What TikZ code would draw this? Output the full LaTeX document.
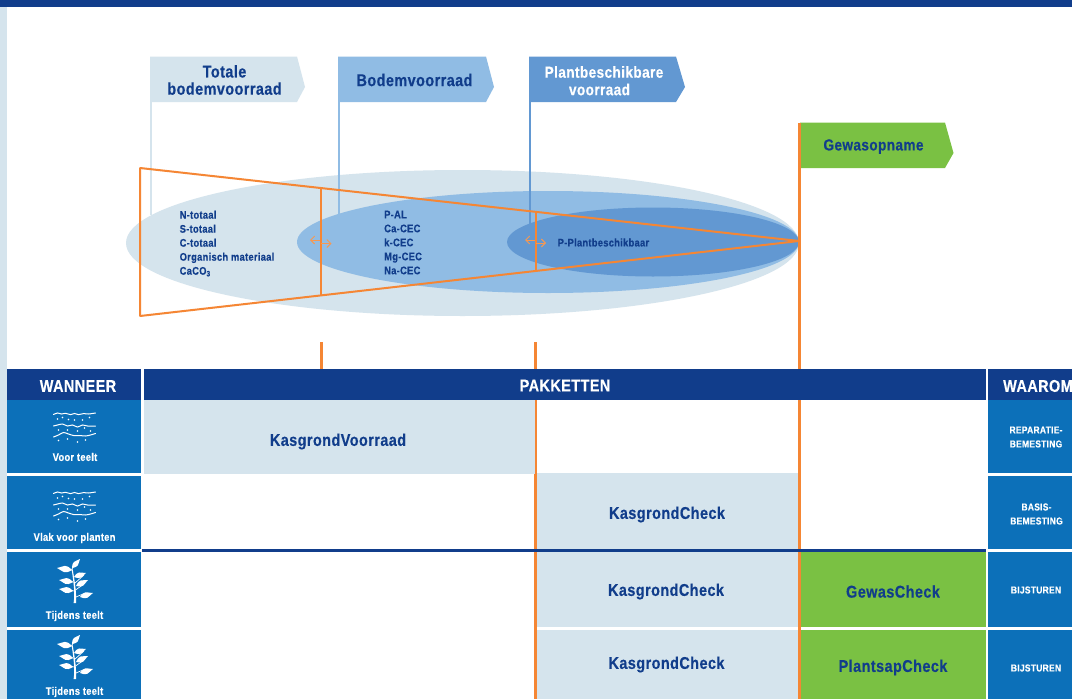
\documentclass[tikz,border=0pt]{standalone}
\usepackage{fontspec}
\setmainfont{Liberation Sans}[BoldFont={Liberation Sans Bold}]
\newfontfamily\cond{Liberation Sans Bold}[FakeStretch=0.85,LetterSpace=2.5,FakeBold=0.3]
\usetikzlibrary{arrows.meta}
\definecolor{cLight}{HTML}{D5E4ED}
\definecolor{cMid}{HTML}{90BCE4}
\definecolor{cDeep}{HTML}{6298D2}
\definecolor{cNavy}{HTML}{113D8B}
\definecolor{cCell}{HTML}{0C70B9}
\definecolor{cGreen}{HTML}{7AC143}
\definecolor{cOrange}{HTML}{F58634}
\tikzset{
  flagtext/.style={font=\cond\fontsize{16}{17.2}\selectfont,align=center,inner sep=0pt},
  flagbig/.style={font=\cond\fontsize{17}{17.2}\selectfont,align=center,inner sep=0pt},
  listtext/.style={font=\cond\fontsize{11}{14}\selectfont,text=cNavy,align=left,anchor=north west,inner sep=0pt},
  headtext/.style={font=\cond\fontsize{17}{17}\selectfont,text=white,inner sep=0pt},
  packtext/.style={font=\cond\fontsize{17}{18}\selectfont,text=cNavy,inner sep=0pt},
  whentext/.style={font=\cond\fontsize{11}{12}\selectfont,text=white,inner sep=0pt},
  whytext/.style={font=\cond\fontsize{10}{14}\selectfont,text=white,align=center,inner sep=0pt},
  funnel/.style={draw=cOrange,line width=2pt,line join=bevel},
  divider/.style={draw=cOrange,line width=2pt},
  axisline/.style={draw=cOrange,line width=2.8pt},
  flagpole/.style={line width=2.4pt},
  shift arrow/.style={draw=cOrange!85!white,line width=.9pt,-{Straight Barb[length=4pt,width=8pt]}},
  wave/.style={draw=white,line width=1pt,line cap=round},
  leafshape/.style={fill=white},
}
\newcommand{\cellbox}[6]{\fill[#6] (#2,#3) rectangle (#4,#5) coordinate[midway] (#1);}
\newcommand{\flagshape}[6]{\fill[#6] (#1,#2) -- (#3,#2) -- (#4,#5) -- (#3,#2+45.5) -- (#1,#2+45.5) -- cycle;}
\newcommand{\soilicon}[2]{%
\begin{scope}[shift={(#1,#2)}]
 \draw[wave] plot[smooth] coordinates {(0,1.5) (4,0) (8,1) (12,0.3) (17,1.6) (21,0.5) (25,1.6) (30,0.6) (35,1) (42,0)};
 \draw[wave] plot[smooth] coordinates {(0,13) (4,12) (9,11) (14,13) (19,12) (24,14) (29,12) (34,13) (42,13)};
 \draw[wave] plot[smooth] coordinates {(0,24) (5,22) (10,19.5) (15,21) (20,22.5) (26,22.5) (32,23) (37,22) (42,20.5)};
 \foreach \p/\q in {4/6,9/4.5,15/6.5,21/7,29/7,36/4.5,5/17,14/17,24/18,31/15,37/18,5/27.5,14/26,24/29,32/27}
   \fill[white] (\p,\q) circle (.85pt);
\end{scope}}
\newcommand{\leaf}[4]{\fill[leafshape] (#1,#2) .. controls ({(#1+#3)/2-(#4-#2)*.38},{(#2+#4)/2+(#3-#1)*.38}) and ({(#1+#3)/2-(#4-#2)*.18},{(#2+#4)/2+(#3-#1)*.18}) .. (#3,#4) .. controls ({(#1+#3)/2+(#4-#2)*.18},{(#2+#4)/2-(#3-#1)*.18}) and ({(#1+#3)/2+(#4-#2)*.38},{(#2+#4)/2-(#3-#1)*.38}) .. cycle;}
\newcommand{\planticon}[2]{%
\begin{scope}[shift={(#1,#2)}]
 \fill[white] (73.6,603) .. controls (75,594) and (74,585) .. (71.6,569) -- (72.6,569) .. controls (75.5,585) and (76.5,594) .. (76,603) -- cycle;
 \draw[white,line width=.7pt] (72,569) -- (77,561) (75,583) -- (84,575) (75.5,590) -- (84,584) (76,597) -- (83,594);
 \draw[white,line width=.7pt] (72,570) -- (68,569) (73,582) -- (70,581) (74,591) -- (70,590);
 \leaf{72}{568}{80}{559}
 \leaf{72}{570}{57}{568}
 \leaf{74}{577}{86}{573}
 \leaf{73}{582}{59}{580}
 \leaf{76}{586}{88}{580}
 \leaf{73}{591}{59}{589}
 \leaf{80}{597}{93}{593}
\end{scope}}
\begin{document}
\begin{tikzpicture}[x=1pt,y=-1pt]
\useasboundingbox (0,0) rectangle (1072,699);
\clip (0,0) rectangle (1072,699);
\fill[white] (0,0) rectangle (1072,699);
% page frame
\cellbox{stripe}{0}{0}{7}{699}{cLight}
\cellbox{topbar}{0}{0}{1072}{7}{cNavy}
% ellipses and flags
\fill[cLight] (462.5,243) ellipse [x radius=336.5,y radius=73];
\coordinate (poleA) at (151.2,102);
\coordinate (poleAe) at (151.2,215);
\coordinate (poleB) at (339,102);
\coordinate (poleBe) at (339,222);
\coordinate (poleC) at (530,102);
\coordinate (poleCe) at (530,228);
\draw[flagpole,cLight] (poleA) -- (poleAe);
\fill[cMid] (548,242) ellipse [x radius=251,y radius=51];
\draw[flagpole,cMid] (poleB) -- (poleBe);
\fill[cDeep] (653,242) ellipse [x radius=146,y radius=34.5];
\draw[flagpole,cDeep] (poleC) -- (poleCe);
\flagshape{150}{56.5}{297}{305}{87}{cLight}
\flagshape{338}{56.5}{486}{494}{87}{cMid}
\flagshape{529}{56.5}{676}{685}{87}{cDeep}
\flagshape{800}{122.5}{945}{953.5}{153}{cGreen}
\node[flagbig,text=cNavy] (totale) at (224.5,80) {Totale\\bodemvoorraad};
\node[flagbig,text=cNavy] (bodem) at (414.5,80) {Bodemvoorraad};
\node[flagtext,text=white] (plant1) at (604,72) {Plantbeschikbare};
\node[flagtext,text=white] (plant2) at (599.5,89.5) {voorraad};
\node[flagtext,text=cNavy] (gewas) at (873.5,146.5) {Gewasopname};
% lists
\node[listtext] (listA) at (179.5,210.5) {N-totaal\\S-totaal\\C-totaal\\Organisch materiaal\\CaCO\textsubscript{3}};
\node[listtext] (listB) at (384,210.5) {P-AL\\Ca-CEC\\k-CEC\\Mg-CEC\\Na-CEC};
\node[listtext,anchor=west] (listC) at (557.5,242.5) {P-Plantbeschikbaar};
% funnel
\coordinate (fA) at (140,168);
\coordinate (fB) at (799,241);
\coordinate (fC) at (140,316);
\draw[funnel] (fA) -- (fB) -- (fC) -- cycle;
\coordinate (d1t) at (320.5,188);
\coordinate (d1b) at (320.5,295);
\coordinate (d2t) at (535.5,212);
\coordinate (d2b) at (535.5,271);
\draw[divider] (d1t) -- (d1b);
\draw[divider] (d2t) -- (d2b);
\coordinate (a1) at (320,240); \coordinate (a1e) at (310,240);
\coordinate (a2) at (321,243.5); \coordinate (a2e) at (331.5,243.5);
\coordinate (a3) at (535,240); \coordinate (a3e) at (525,240);
\coordinate (a4) at (536,243); \coordinate (a4e) at (546,243);
\draw[shift arrow] (a1) -- (a1e);
\draw[shift arrow] (a2) -- (a2e);
\draw[shift arrow] (a3) -- (a3e);
\draw[shift arrow] (a4) -- (a4e);
% table cells
\cellbox{cB}{537}{473}{799}{549}{cLight}
\cellbox{cC}{537}{552}{799}{627}{cLight}
\cellbox{cD}{537}{630}{799}{699}{cLight}
\cellbox{cE}{800}{552}{986}{627}{cGreen}
\cellbox{cF}{800}{630}{986}{699}{cGreen}
\foreach \xa/\xb in {7/141,988/1072}{
 \fill[cCell] (\xa,400) rectangle (\xb,472.5);
 \fill[cCell] (\xa,475.5) rectangle (\xb,549);
 \fill[cCell] (\xa,552) rectangle (\xb,627);
 \fill[cCell] (\xa,630) rectangle (\xb,699);
}
% axes
\coordinate (ax1t) at (321.8,342); \coordinate (ax1b) at (321.8,369);
\coordinate (ax2t) at (535.3,342); \coordinate (ax2b) at (535.3,699);
\coordinate (ax3t) at (799.5,123); \coordinate (ax3b) at (799.5,699);
\draw[axisline] (ax1t) -- (ax1b);
\draw[axisline] (ax2t) -- (ax2b);
\draw[axisline] (ax3t) -- (ax3b);
\cellbox{cA}{144}{400}{535.4}{473.5}{cLight}
\coordinate (sepL) at (142,550.5); \coordinate (sepR) at (986,550.5);
\draw[cNavy,line width=2.2pt] (sepL) -- (sepR);
% headers
\cellbox{h1}{7}{369}{141}{400}{cNavy}
\cellbox{h2}{144}{369}{986}{400}{cNavy}
\cellbox{h3}{988}{369}{1072}{400}{cNavy}
\node[headtext] (wanneer) at (78,386) {WANNEER};
\node[headtext] (pakketten) at (565,385.5) {PAKKETTEN};
\node[headtext,anchor=west] (waarom) at (1003,386) {WAAROM};
\node[packtext] (t1) at (338,441.5) {KasgrondVoorraad};
\node[packtext] (t2) at (667,514.5) {KasgrondCheck};
\node[packtext] (t3) at (666,591.5) {KasgrondCheck};
\node[packtext] (t4) at (666.5,664.5) {KasgrondCheck};
\node[packtext] (t5) at (893,591.5) {GewasCheck};
\node[packtext] (t6) at (893,667.5) {PlantsapCheck};
\node[whentext] (w1) at (75,457) {Voor teelt};
\node[whentext] (w2) at (74.5,538) {Vlak voor planten};
\node[whentext] (w3) at (74.5,616) {Tijdens teelt};
\node[whentext] (w4) at (74.5,692) {Tijdens teelt};
\node[whytext] (y1) at (1036,437) {REPARATIE-\\BEMESTING};
\node[whytext] (y2) at (1036.5,514) {BASIS-\\BEMESTING};
\node[whytext] (y3) at (1036,590) {BIJSTUREN};
\node[whytext] (y4) at (1036,668) {BIJSTUREN};
% icons
\soilicon{53.5}{413}
\soilicon{53.5}{492}
\planticon{0}{0}
\planticon{0}{76}
\end{tikzpicture}
\end{document}
